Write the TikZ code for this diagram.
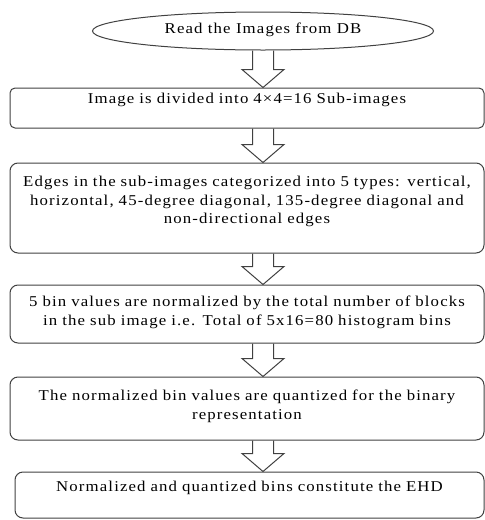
\documentclass[tikz,border=0pt]{standalone}
\usepackage{fontspec}
\setmainfont{Liberation Serif}[FakeStretch=1.12,LetterSpace=7.5]
\usetikzlibrary{shapes.geometric, calc}

\tikzset{
  stepbox/.style={draw=black!75, line width=1pt, rounded corners=8pt, minimum width=474pt,
    text width=468pt, align=center, inner sep=0pt, text height=11pt,
    font=\fontsize{15}{18.5}\selectfont},
  startbox/.style={draw=black!75, line width=1pt, ellipse, minimum width=341pt, minimum height=38pt,
    inner sep=0pt, text height=11pt, text depth=6pt, font=\fontsize{15}{18.5}\selectfont},
  flowarrow/.style={draw=black!75, line width=1pt, line join=miter}
}

\begin{document}
\begin{tikzpicture}[x=1pt, y=-1pt]
\useasboundingbox (0,0) rectangle (485,520);
\node[startbox] (read) at (263,31) {Read the Images from DB};
\node[stepbox, rounded corners=5pt, minimum height=40pt, text depth=20pt] (divide) at (247,108)
  {Image is divided into 4×4=16 Sub-images};
\node[stepbox, minimum height=90pt, text depth=54pt] (edges) at (247,208)
  {Edges in the sub-images categorized into 5 types: vertical,\\
   horizontal, 45-degree diagonal, 135-degree diagonal and\\
   non-directional edges};
\node[stepbox, minimum height=58pt, text depth=26pt] (norm) at (247,314)
  {5 bin values are normalized by the total number of blocks\\
   in the sub image i.e. Total of 5x16=80 histogram bins};
\node[stepbox, minimum height=63pt, text depth=27pt] (quant) at (247,408.5)
  {The normalized bin values are quantized for the binary\\
   representation};
\node[stepbox, minimum width=469pt, minimum height=46pt, text depth=18pt] (ehd) at (249.5,495)
  {Normalized and quantized bins constitute the EHD};

\foreach \src/\dst in {read/divide, divide/edges, edges/norm, norm/quant, quant/ehd}
  \draw[flowarrow] let \p1=(\src.south), \p2=(\dst.north), \p3=(read.center) in
    (\x3-10.5pt,\y1) -- (\x3-10.5pt,\y2+18pt) -- (\x3-21pt,\y2+18pt) -- (\x3,\y2)
    -- (\x3+21pt,\y2+18pt) -- (\x3+10.5pt,\y2+18pt) -- (\x3+10.5pt,\y1);
\end{tikzpicture}
\end{document}
